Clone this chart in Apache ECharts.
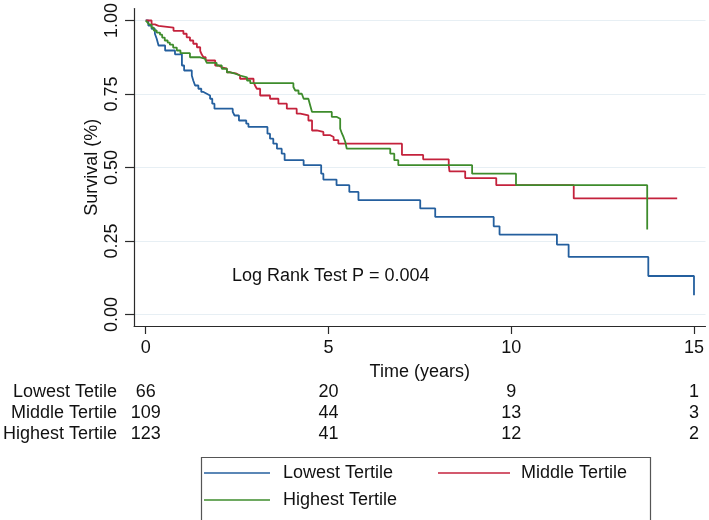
<!DOCTYPE html>
<html><head><meta charset="utf-8">
<script src="https://cdn.jsdelivr.net/npm/echarts@6/dist/echarts.min.js"></script>
<style>html,body{margin:0;padding:0;background:#fff}#c{width:709px;height:520px}</style>
</head><body><div id="c"></div>
<script>
// ---- data ----
const seriesNames = ['Lowest Tertile', 'Middle Tertile', 'Highest Tertile'];
const seriesColors = ['#245f9e', '#c4223c', '#3e8c2c'];

const lowestTime = [0, 0.07, 0.16, 0.25, 0.30, 0.35, 0.53, 0.80, 0.99, 1.05, 1.26, 1.30, 1.35, 1.44, 1.52, 1.58, 1.67, 1.76, 1.82, 1.88, 2.38, 2.43, 2.55, 2.75, 2.81, 3.33, 3.40, 3.49, 3.59, 3.72, 3.80, 4.32, 4.80, 4.86, 5.22, 5.57, 5.82, 7.51, 7.92, 9.52, 9.68, 11.25, 11.57, 13.75, 15.0];
const lowestSurv = [1, 0.983, 0.972, 0.955, 0.938, 0.915, 0.898, 0.885, 0.847, 0.83, 0.813, 0.796, 0.779, 0.768, 0.757, 0.751, 0.745, 0.734, 0.717, 0.70, 0.689, 0.677, 0.66, 0.649, 0.638, 0.615, 0.598, 0.581, 0.564, 0.547, 0.525, 0.508, 0.479, 0.459, 0.44, 0.417, 0.389, 0.361, 0.332, 0.30, 0.272, 0.238, 0.196, 0.131, 0.066];

const middleTime = [0, 0.16, 0.25, 0.35, 0.76, 1.03, 1.12, 1.21, 1.30, 1.40, 1.49, 1.53, 1.58, 1.64, 1.90, 1.99, 2.08, 2.22, 2.31, 2.49, 2.58, 2.95, 2.99, 3.04, 3.13, 3.40, 3.63, 3.86, 4.13, 4.23, 4.45, 4.55, 4.68, 4.86, 5.05, 5.14, 5.27, 7.01, 7.59, 8.29, 8.31, 8.74, 9.59, 11.71, 14.54];
const middleSurv = [1, 0.987, 0.982, 0.976, 0.965, 0.955, 0.943, 0.932, 0.921, 0.909, 0.897, 0.885, 0.875, 0.864, 0.847, 0.841, 0.836, 0.824, 0.819, 0.813, 0.802, 0.79, 0.779, 0.768, 0.745, 0.734, 0.717, 0.70, 0.683, 0.677, 0.66, 0.626, 0.621, 0.61, 0.604, 0.593, 0.581, 0.543, 0.528, 0.508, 0.487, 0.464, 0.44, 0.395, 0.395];

const highestTime = [0, 0.05, 0.10, 0.16, 0.22, 0.30, 0.39, 0.45, 0.52, 0.60, 0.66, 0.75, 0.85, 0.95, 1.21, 1.49, 1.62, 1.67, 1.94, 2.08, 2.22, 2.31, 2.45, 2.58, 2.77, 2.86, 4.04, 4.09, 4.18, 4.27, 4.32, 4.45, 4.50, 4.55, 5.09, 5.23, 5.32, 5.37, 5.41, 5.46, 5.50, 6.69, 6.80, 6.91, 8.93, 10.13, 13.72];
const highestSurv = [1, 0.993, 0.986, 0.976, 0.966, 0.959, 0.952, 0.942, 0.932, 0.925, 0.918, 0.908, 0.898, 0.889, 0.875, 0.87, 0.864, 0.856, 0.847, 0.836, 0.824, 0.819, 0.813, 0.807, 0.796, 0.787, 0.774, 0.762, 0.751, 0.745, 0.734, 0.728, 0.711, 0.689, 0.672, 0.666, 0.632, 0.615, 0.604, 0.587, 0.564, 0.547, 0.525, 0.508, 0.479, 0.44, 0.289];

const xTicks = [0, 5, 10, 15];
const yTicks = [0, 0.25, 0.5, 0.75, 1];
const riskRowLabels = ['Lowest Tetile', 'Middle Tertile', 'Highest Tertile'];
const riskLowest = [66, 20, 9, 1];
const riskMiddle = [109, 44, 13, 3];
const riskHighest = [123, 41, 12, 2];
const annotationText = 'Log Rank Test P = 0.004';

// ---- chart ----
const FONT = 'Liberation Sans, Arial, Helvetica, sans-serif';
const FS = 18;
const TXT = '#111';
const AX = '#2a2a2a';
const X_MIN = -0.32, X_MAX = 15.315;
const Y_MIN = -0.039, Y_MAX = 1.0407;

const pairs = (t, s) => t.map((v, i) => [v, s[i]]);
const riskRows = [riskLowest, riskMiddle, riskHighest];
const riskOffsets = [66.3, 87.3, 108.3];

const xAxes = [{
  type: 'value', min: X_MIN, max: X_MAX, position: 'bottom',
  axisLine: { show: true, onZero: false, lineStyle: { color: AX, width: 1.2 } },
  axisTick: { show: true, customValues: xTicks, length: 8, lineStyle: { color: AX, width: 1.2 } },
  axisLabel: { customValues: xTicks, margin: 13, fontSize: FS, color: TXT, fontFamily: FONT },
  splitLine: { show: false },
  name: 'Time (years)', nameLocation: 'middle', nameGap: 37,
  nameTextStyle: { fontSize: FS, color: TXT, fontFamily: FONT }
}];
riskRows.forEach((row, r) => {
  xAxes.push({
    type: 'value', min: X_MIN, max: X_MAX, position: 'bottom', offset: riskOffsets[r],
    axisLine: { show: false, onZero: false }, axisTick: { show: false }, splitLine: { show: false },
    axisLabel: {
      customValues: xTicks, margin: 0, verticalAlign: 'middle', fontSize: FS, color: TXT, fontFamily: FONT,
      formatter: v => { const i = xTicks.indexOf(Math.round(v)); return i >= 0 ? String(row[i]) : ''; }
    },
    name: riskRowLabels[r], nameLocation: 'start', nameGap: 17,
    nameTextStyle: { fontSize: FS, color: TXT, fontFamily: FONT, align: 'right', verticalAlign: 'middle' }
  });
});

const seriesData = [pairs(lowestTime, lowestSurv), pairs(middleTime, middleSurv), pairs(highestTime, highestSurv)];

const legends = [
  { left: 204, top: 464, w: 66, pad: 8, name: seriesNames[0] },
  { left: 438, top: 464, w: 72, pad: 6, name: seriesNames[1] },
  { left: 204, top: 491, w: 66, pad: 8, name: seriesNames[2] }
].map(l => ({
  data: [{ name: l.name, icon: 'path://M0,8L' + l.w + ',8L' + l.w + ',9.5L0,9.5Z' }],
  left: l.left, top: l.top, padding: 0, itemWidth: l.w, itemHeight: 18,
  selectedMode: false,
  textStyle: { fontSize: FS, color: TXT, fontFamily: FONT, padding: [0, 0, 0, l.pad] }
}));

const chart = echarts.init(document.getElementById('c'), null, { renderer: 'canvas' });
chart.setOption({
  animation: false,
  backgroundColor: '#fff',
  textStyle: { fontFamily: FONT },
  grid: { left: 134, right: 3.5, top: 8, bottom: 194, containLabel: false },
  xAxis: xAxes,
  yAxis: {
    type: 'value', min: Y_MIN, max: Y_MAX,
    axisLine: { show: true, onZero: false, lineStyle: { color: AX, width: 1.2 } },
    axisTick: { show: true, customValues: yTicks, length: 9, lineStyle: { color: AX, width: 1.2 } },
    axisLabel: { customValues: yTicks, rotate: 90, margin: 13, fontSize: FS, color: TXT, fontFamily: FONT,
      formatter: v => v.toFixed(2) },
    splitLine: { show: true, lineStyle: { color: '#e7eff4', width: 1.2 } },
    name: 'Survival (%)', nameLocation: 'middle', nameGap: 33, nameMoveOverlap: false,
    nameTextStyle: { fontSize: FS, color: TXT, fontFamily: FONT }
  },
  legend: legends,
  series: seriesNames.map((n, i) => ({
    name: n, type: 'line', step: 'end', data: seriesData[i], xAxisIndex: 0, yAxisIndex: 0,
    showSymbol: false, symbol: 'none', color: seriesColors[i],
    itemStyle: { color: seriesColors[i] },
    lineStyle: { width: 1.8, color: seriesColors[i] }
  })),
  graphic: [
    { type: 'rect', left: 199, top: 455, shape: { width: 449, height: 63 },
      style: { fill: 'none', stroke: '#555', lineWidth: 1.2 }, silent: true },
    { type: 'text', left: 232, top: 267,
      style: { text: annotationText, font: FS + 'px ' + FONT, fill: TXT } }
  ]
});
</script></body></html>
